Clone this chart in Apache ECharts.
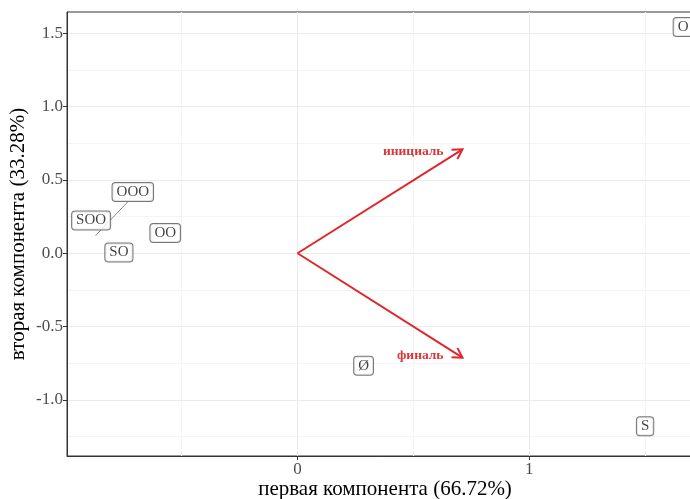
<!DOCTYPE html>
<html>
<head>
<meta charset="utf-8">
<script src="https://cdn.jsdelivr.net/npm/echarts@6/dist/echarts.min.js"></script>
<style>html,body{margin:0;padding:0;background:#fff}#c{width:690px;height:499px}</style>
</head>
<body>
<div id="c"></div>
<script>
// Point labels (repelled label positions)
const pointNames = ['O', 'S', 'Ø', 'OO', 'SO', 'SOO', 'OOO'];
const labelX = [1.664, 1.500, 0.285, -0.571, -0.771, -0.891, -0.711];
const labelY = [1.544, -1.180, -0.767, 0.138, 0.005, 0.224, 0.418];
// connector segment from OOO label toward its point
const segX = [-0.732, -0.872];
const segY = [0.352, 0.120];
// loading arrows
const arrowNames = ['инициаль', 'финаль'];
const arrowX = [0.712, 0.712];
const arrowY = [0.709, -0.712];
// axis ticks and grid
const xTicks = [0, 1];
const yTicks = [-1.0, -0.5, 0.0, 0.5, 1.0, 1.5];
const xMajorGrid = [0, 1];
const xMinorGrid = [-0.5, 0.5, 1.5];
const yMajorGrid = [-1.0, -0.5, 0.0, 0.5, 1.0, 1.5];
const yMinorGrid = [-1.25, -0.75, -0.25, 0.25, 0.75, 1.25];

const serif = 'Liberation Serif';
const chart = echarts.init(document.getElementById('c'), null, {renderer: 'canvas'});

const gridLines = [];
xMinorGrid.forEach(v => gridLines.push({xAxis: v, lineStyle: {color: '#f4f4f4', width: 1, type: 'solid'}}));
yMinorGrid.forEach(v => gridLines.push({yAxis: v, lineStyle: {color: '#f4f4f4', width: 1, type: 'solid'}}));
xMajorGrid.forEach(v => gridLines.push({xAxis: v, lineStyle: {color: '#ebebeb', width: 1, type: 'solid'}}));
yMajorGrid.forEach(v => gridLines.push({yAxis: v, lineStyle: {color: '#ebebeb', width: 1, type: 'solid'}}));

const arrowColor = '#e0262b';

chart.setOption({
  animation: false,
  grid: {left: 67, right: -13, top: 12, bottom: 43, show: true, borderColor: '#333', borderWidth: 1,
    backgroundColor: 'transparent', outerBoundsMode: 'none', containLabel: false},
  xAxis: {
    type: 'value', min: -0.995, max: 1.75, z: 10,
    name: 'первая компонента (66.72%)', nameLocation: 'middle', nameGap: 23, nameMoveOverlap: false,
    nameTextStyle: {fontFamily: serif, fontSize: 21, color: '#000'},
    axisLine: {show: true, onZero: false, lineStyle: {color: '#333', width: 1}},
    axisTick: {show: true, length: 4, customValues: xTicks, lineStyle: {color: '#333'}},
    axisLabel: {customValues: xTicks, fontFamily: serif, fontSize: 17, color: '#4d4d4d', margin: 5,
      formatter: v => String(v)},
    splitLine: {show: false}
  },
  yAxis: {
    type: 'value', min: -1.383, max: 1.646, z: 10,
    name: 'вторая компонента (33.28%)', nameLocation: 'middle', nameGap: 38, nameMoveOverlap: false,
    nameTextStyle: {fontFamily: serif, fontSize: 21, color: '#000'},
    axisLine: {show: true, onZero: false, lineStyle: {color: '#333', width: 1}},
    axisTick: {show: true, length: 4, customValues: yTicks, lineStyle: {color: '#333'}},
    axisLabel: {customValues: yTicks, fontFamily: serif, fontSize: 17, color: '#4d4d4d', margin: 4,
      formatter: v => v.toFixed(1)},
    splitLine: {show: false}
  },
  series: [
    {
      type: 'line', data: [], silent: true, z: 1,
      markLine: {z: 1, silent: true, symbol: 'none', label: {show: false}, animation: false, data: gridLines}
    },
    {
      type: 'line', z: 2, silent: true, symbol: 'none',
      data: segX.map((x, i) => [x, segY[i]]),
      lineStyle: {color: '#666', width: 0.8}
    },
    {
      type: 'custom', z: 3, silent: true,
      data: arrowX.map((x, i) => [x, arrowY[i], arrowNames[i]]),
      renderItem: function (params, api) {
        const o = api.coord([0, 0]);
        const e = api.coord([api.value(0), api.value(1)]);
        const ang = Math.atan2(e[1] - o[1], e[0] - o[0]);
        const L = 11, a = Math.PI / 6;
        const p1 = [e[0] - L * Math.cos(ang - a), e[1] - L * Math.sin(ang - a)];
        const p2 = [e[0] - L * Math.cos(ang + a), e[1] - L * Math.sin(ang + a)];
        const name = arrowNames[params.dataIndex];
        return {
          type: 'group',
          children: [
            {type: 'line', shape: {x1: o[0], y1: o[1], x2: e[0], y2: e[1]}, style: {stroke: arrowColor, lineWidth: 2}},
            {type: 'polyline', shape: {points: [p1, e, p2]}, style: {stroke: arrowColor, lineWidth: 2, fill: null}},
            {type: 'text', x: e[0] - 19, y: e[1] + (api.value(1) > 0 ? 2 : -2),
              style: {text: name, fill: '#d9363a', font: 'bold 13.5px "Liberation Serif"', align: 'right', verticalAlign: 'middle'}}
          ]
        };
      }
    },
    {
      type: 'scatter', z: 4, silent: true,
      symbolSize: 1, itemStyle: {color: 'rgba(0,0,0,0)'},
      data: labelX.map((x, i) => ({value: [x, labelY[i]], name: pointNames[i]})),
      label: {
        show: true, position: 'inside', formatter: p => p.name,
        fontFamily: serif, fontSize: 15, color: '#111',
        backgroundColor: '#fff', borderColor: '#555', borderWidth: 1, borderRadius: 3,
        padding: [2, 4, 1, 4]
      },
      labelLayout: {hideOverlap: false}
    }
  ]
});
</script>
</body>
</html>
